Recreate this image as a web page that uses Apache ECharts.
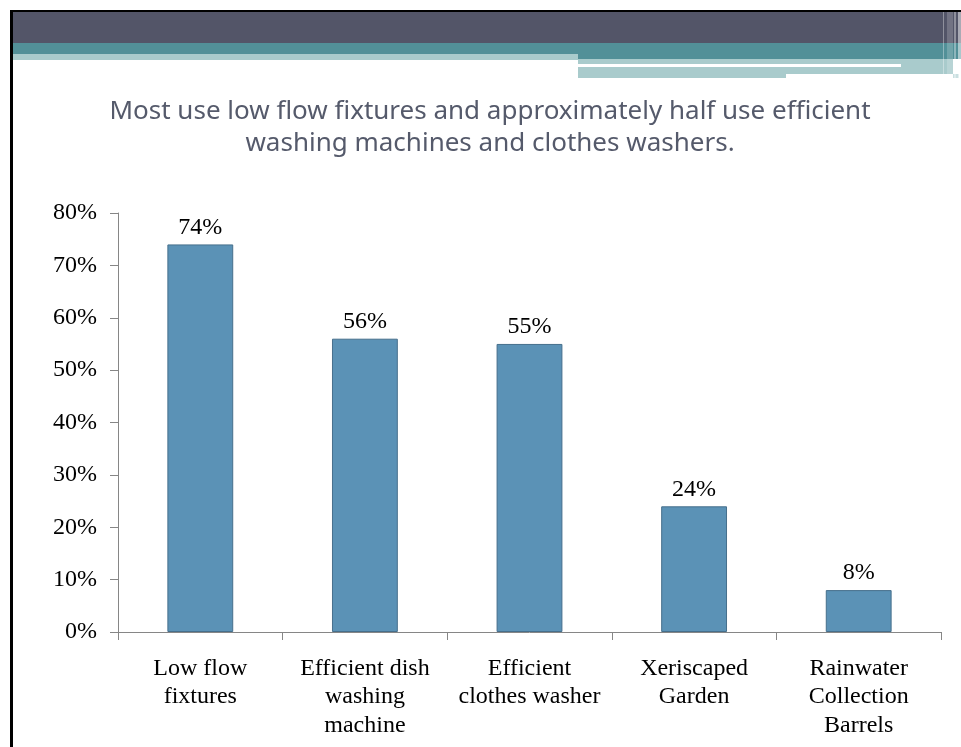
<!DOCTYPE html>
<html>
<head>
<meta charset="utf-8">
<title>Water-saving practices</title>
<script src="https://cdn.jsdelivr.net/npm/echarts@6/dist/echarts.min.js"></script>
<style>
  html, body { margin: 0; padding: 0; background: #ffffff; }
  #chart { width: 961px; height: 747px; }
</style>
</head>
<body>
<div id="chart"></div>
<script>
// Survey results: share of respondents using each water-saving measure
const categories = [
  'Low flow\nfixtures',
  'Efficient dish\nwashing\nmachine',
  'Efficient\nclothes washer',
  'Xeriscaped\nGarden',
  'Rainwater\nCollection\nBarrels'
];
const usagePercent = [74, 56, 55, 24, 8];
const yTicks = [0, 10, 20, 30, 40, 50, 60, 70, 80];

const titleText = 'Most use low flow fixtures and approximately half use efficient\nwashing machines and clothes washers.';

const serif = '"Liberation Serif", "DejaVu Serif", serif';

const chart = echarts.init(document.getElementById('chart'), null, { renderer: 'canvas' });

// Slide header bands and frame
const headerGraphics = [
  { type: 'rect', shape: { x: 12, y: 12, width: 949, height: 31 }, style: { fill: '#535568' }, silent: true },
  { type: 'rect', shape: { x: 12, y: 43, width: 949, height: 11 }, style: { fill: '#529098' }, silent: true },
  { type: 'rect', shape: { x: 578, y: 54, width: 383, height: 5 }, style: { fill: '#529098' }, silent: true },
  { type: 'rect', shape: { x: 12, y: 54, width: 566, height: 6 }, style: { fill: '#a9cbcc' }, silent: true },
  { type: 'rect', shape: { x: 578, y: 59, width: 375, height: 15 }, style: { fill: '#a9cbcc' }, silent: true },
  { type: 'rect', shape: { x: 578, y: 74, width: 208, height: 4 }, style: { fill: '#a9cbcc' }, silent: true },
  { type: 'rect', shape: { x: 578, y: 64, width: 323, height: 3 }, style: { fill: '#ffffff' }, silent: true },
  { type: 'rect', shape: { x: 953, y: 74, width: 6, height: 4 }, style: { fill: '#c9dfe0' }, silent: true },
  // light vertical stripes at the right edge of the header
  { type: 'rect', shape: { x: 943, y: 12, width: 1, height: 62 }, style: { fill: 'rgba(255,255,255,0.35)' }, silent: true },
  { type: 'rect', shape: { x: 947, y: 12, width: 6, height: 62 }, style: { fill: 'rgba(255,255,255,0.18)' }, silent: true },
  { type: 'rect', shape: { x: 954, y: 12, width: 2, height: 66 }, style: { fill: 'rgba(255,255,255,0.35)' }, silent: true },
  { type: 'rect', shape: { x: 958, y: 12, width: 3, height: 66 }, style: { fill: 'rgba(255,255,255,0.5)' }, silent: true },
  // black frame lines
  { type: 'rect', shape: { x: 10, y: 10, width: 951, height: 2 }, style: { fill: '#000000' }, silent: true },
  { type: 'rect', shape: { x: 10, y: 10, width: 3, height: 737 }, style: { fill: '#000000' }, silent: true },
  // title
  {
    type: 'text',
    x: 490,
    y: 96,
    silent: true,
    style: {
      text: titleText,
      fill: '#555a6b',
      font: '26px "Noto Sans", "DejaVu Sans", sans-serif',
      textAlign: 'center',
      textVerticalAlign: 'top',
      lineHeight: 32
    }
  }
];

const option = {
  animation: false,
  backgroundColor: '#ffffff',
  graphic: headerGraphics,
  grid: { left: 118, right: 20, top: 213, bottom: 115, containLabel: false },
  xAxis: {
    type: 'category',
    data: categories,
    axisLine: { show: true, lineStyle: { color: '#868686', width: 1 } },
    axisTick: { show: true, length: 8, lineStyle: { color: '#868686' } },
    axisLabel: {
      interval: 0,
      margin: 22,
      color: '#000000',
      fontFamily: serif,
      fontSize: 24,
      lineHeight: 28.5,
      align: 'center'
    },
    splitLine: { show: false }
  },
  yAxis: {
    type: 'value',
    min: yTicks[0],
    max: yTicks[yTicks.length - 1],
    interval: yTicks[1] - yTicks[0],
    axisLine: { show: true, lineStyle: { color: '#868686', width: 1 } },
    axisTick: { show: true, length: 8, lineStyle: { color: '#868686' } },
    axisLabel: {
      margin: 21,
      color: '#000000',
      fontFamily: serif,
      fontSize: 24,
      formatter: '{value}%'
    },
    splitLine: { show: false }
  },
  series: [{
    type: 'bar',
    data: usagePercent,
    barWidth: '40%',
    itemStyle: {
      color: '#5b92b6',
      borderColor: '#466f8c',
      borderWidth: 1
    },
    label: {
      show: true,
      position: 'top',
      distance: 5,
      color: '#000000',
      fontFamily: serif,
      fontSize: 24,
      formatter: '{c}%'
    }
  }]
};

chart.setOption(option);
</script>
</body>
</html>
